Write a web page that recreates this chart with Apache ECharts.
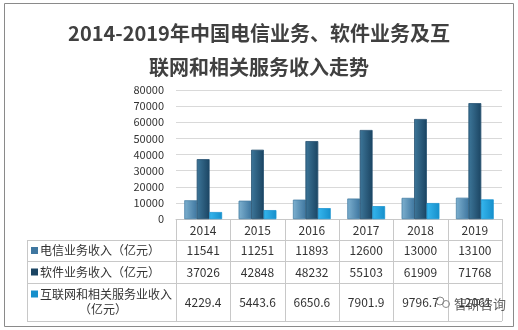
<!DOCTYPE html>
<html><head><meta charset="utf-8">
<script src="https://cdn.jsdelivr.net/npm/echarts@6/dist/echarts.min.js"></script>
<style>html,body{margin:0;padding:0;background:#fff}#c{width:518px;height:330px}</style>
</head><body><div id="c"></div>
<script>
const titleLines = ['2014-2019年中国电信业务、软件业务及互', '联网和相关服务收入走势'];
const years = ['2014', '2015', '2016', '2017', '2018', '2019'];
const telecom = [11541, 11251, 11893, 12600, 13000, 13100];
const software = [37026, 42848, 48232, 55103, 61909, 71768];
const internet = [4229.4, 5443.6, 6650.6, 7901.9, 9796.7, 12061];
const seriesNames = ['电信业务收入（亿元）', '软件业务收入（亿元）', '互联网和相关服务业收入（亿元）'];
const rowLabels = [['电信业务收入（亿元）'], ['软件业务收入（亿元）'], ['互联网和相关服务业收入', '（亿元）']];
const yMin = 0, yMax = 80000, yStep = 10000;
const watermark = '智研咨询';

const FONT = '"Noto Sans CJK SC","Noto Sans",sans-serif';
const colors = [
  ['#7db0cf', '#3f77a0', '#4a82a6'],
  ['#3d7699', '#1b4563', '#224f6e'],
  ['#35b6ee', '#168fcb', '#1a95d0']
];
function grad(c) {
  return {type: 'linear', x: 0, y: 0, x2: 1, y2: 0, colorStops: [{offset: 0, color: c[0]}, {offset: 1, color: c[1]}]};
}
const chart = echarts.init(document.getElementById('c'), null, {renderer: 'canvas'});
const allData = [telecom, software, internet];
const option = {
  animation: false,
  textStyle: {fontFamily: FONT},
  grid: {left: 176, right: 16, top: 90, bottom: 111},
  xAxis: {type: 'category', data: years, axisLabel: {show: false}, axisTick: {show: false},
    axisLine: {lineStyle: {color: '#c8c8c8'}}},
  yAxis: {type: 'value', min: yMin, max: yMax, interval: yStep,
    axisLabel: {color: '#333', fontSize: 11, margin: 12, fontFamily: FONT, formatter: v => String(v)},
    splitLine: {lineStyle: {color: '#d9d9d9'}}, axisLine: {show: false}, axisTick: {show: false}},
  series: allData.map((d, i) => ({
    type: 'bar', name: seriesNames[i], data: d, barGap: '0%', barCategoryGap: '31%',
    itemStyle: {color: grad(colors[i]), borderColor: colors[i][2], borderWidth: 0.5}
  }))
};
chart.setOption(option);

const x0 = chart.convertToPixel({xAxisIndex: 0}, 0);
const x1 = chart.convertToPixel({xAxisIndex: 0}, 1);
const colW = x1 - x0;
const plotLeft = x0 - colW / 2;
const plotRight = plotLeft + colW * years.length;
const yAxisBase = chart.convertToPixel({yAxisIndex: 0}, 0);
const tableLeft = 27;
const rowY = [yAxisBase, yAxisBase + 21, yAxisBase + 42, yAxisBase + 64, yAxisBase + 102];
const lineCol = '#c8c8c8';
const g = [];
g.push({type: 'rect', shape: {x: 4.5, y: 3.5, width: 509, height: 323}, style: {fill: 'none', stroke: '#8a8a8a', lineWidth: 1}, silent: true});
titleLines.forEach((t, i) => g.push({type: 'text', x: 259, y: 33 + i * 34, style: {text: t, fill: '#404040', font: 'bold 20px ' + FONT, align: 'center', verticalAlign: 'middle'}}));
for (let r = 1; r < rowY.length; r++) {
  g.push({type: 'line', shape: {x1: tableLeft, y1: Math.round(rowY[r]) + 0.5, x2: plotRight, y2: Math.round(rowY[r]) + 0.5}, style: {stroke: lineCol, lineWidth: 1}});
}
g.push({type: 'line', shape: {x1: tableLeft + 0.5, y1: rowY[1], x2: tableLeft + 0.5, y2: rowY[4]}, style: {stroke: lineCol}});
for (let c = 0; c <= years.length; c++) {
  const x = Math.round(plotLeft + c * colW) + 0.5;
  g.push({type: 'line', shape: {x1: x, y1: rowY[0], x2: x, y2: rowY[4]}, style: {stroke: lineCol}});
}
years.forEach((y, c) => g.push({type: 'text', x: plotLeft + (c + 0.5) * colW, y: (rowY[0] + rowY[1]) / 2 + 0.5, style: {text: y, fill: '#333', font: '12px ' + FONT, align: 'center', verticalAlign: 'middle'}}));
allData.forEach((d, r) => {
  const cy = (rowY[r + 1] + rowY[r + 2]) / 2;
  d.forEach((v, c) => g.push({type: 'text', x: plotLeft + (c + 0.5) * colW, y: cy, style: {text: String(v), fill: '#333', font: '12px ' + FONT, align: 'center', verticalAlign: 'middle'}}));
  const lines = rowLabels[r];
  if (lines.length === 1) {
    g.push({type: 'rect', shape: {x: 31, y: cy - 3.5, width: 7, height: 7}, style: {fill: colors[r][1]}});
    g.push({type: 'text', x: 40, y: cy, style: {text: lines[0], fill: '#333', font: '12px ' + FONT, align: 'left', verticalAlign: 'middle'}});
  } else {
    g.push({type: 'rect', shape: {x: 31, y: cy - 11.5, width: 7, height: 7}, style: {fill: colors[r][1]}});
    g.push({type: 'text', x: 40, y: cy - 8, style: {text: lines[0], fill: '#333', font: '12px ' + FONT, align: 'left', verticalAlign: 'middle'}});
    g.push({type: 'text', x: 103, y: cy + 7, style: {text: lines[1], fill: '#333', font: '12px ' + FONT, align: 'center', verticalAlign: 'middle'}});
  }
});
g.push({type: 'text', x: 480, y: 304, z: 100, style: {text: watermark, fill: 'rgba(70,70,70,0.85)', font: '13px ' + FONT, align: 'center', verticalAlign: 'middle'}});
g.push({type: 'circle', z: 100, shape: {cx: 440, cy: 301, r: 4}, style: {fill: 'none', stroke: '#888', lineWidth: 1}});
g.push({type: 'circle', z: 100, shape: {cx: 446, cy: 304, r: 3.5}, style: {fill: 'none', stroke: '#888', lineWidth: 1}});
chart.setOption({graphic: g});
</script></body></html>
